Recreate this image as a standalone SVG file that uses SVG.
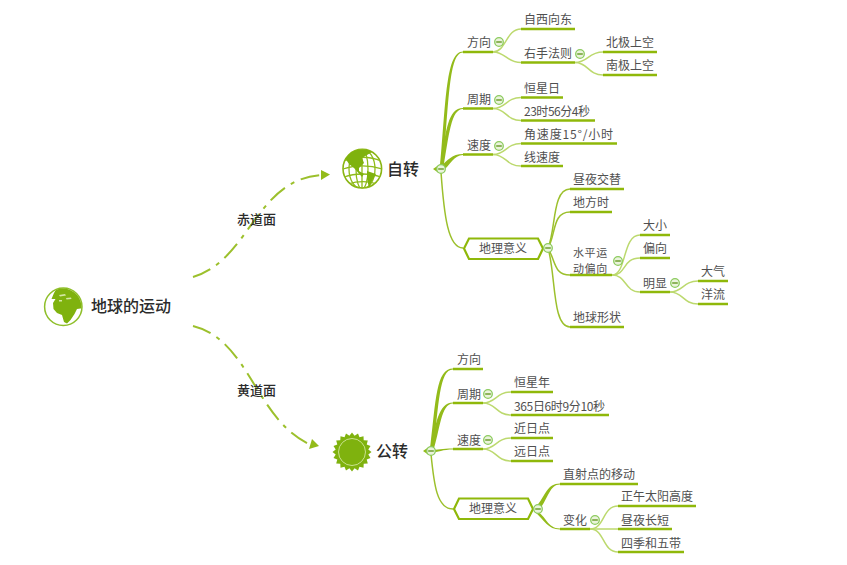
<svg xmlns="http://www.w3.org/2000/svg" width="847" height="565" viewBox="0 0 847 565">
<style>
text{font-family:"Noto Sans CJK SC","Liberation Sans",sans-serif;font-size:12px;fill:#505050}
.big{font-size:16px;font-weight:500;fill:#2b2b2b}
.lab{font-size:13px;font-weight:500;fill:#2b2b2b}
.two{font-size:11px;letter-spacing:.6px}
.u{stroke:#8fb80a;stroke-width:2.500;fill:none}
.a{stroke:#9cc02c;stroke-width:1.500;fill:none}
.b{stroke:#bcd96e;stroke-width:1.500;fill:none}
.t{fill:#93bb1a}
.d{stroke:#9cc02c;stroke-width:2;fill:none;stroke-dasharray:19 7 4 7}
.hex{fill:#fff;stroke:#8fb80a;stroke-width:2.200}
.m{fill:#eaf3dc;stroke:#8ccb5e;stroke-width:1.300}
.n{stroke:#6f9f30;stroke-width:1.500}
</style>
<defs>
<g id="fold"><circle class="m" r="4.300"/><path class="n" d="M-2.800 0H2.800"/></g>
<clipPath id="c1"><circle cx="63" cy="307" r="18.500"/></clipPath>
<clipPath id="c2"><circle cx="362.300" cy="168.700" r="19.500"/></clipPath>
</defs>

<g id="connectors">
<path class="d" d="M193 277C250 260 255 180 321 175"/>
<path class="t" d="M321 170L330 174.500L321 180Z"/>
<path class="d" d="M193 326C250 340 255 420 311 445"/>
<path class="t" d="M312 439L319 446L309 449Z"/>

<path class="t" d="M440 167C446 100 446 51.500 463 51.500V52.500C449 52.500 449 100 443 170Z"/>
<path class="t" d="M440 167C446 130 448 108 463 108V109C451 109 449 135 443 170Z"/>
<path class="t" d="M440 167C448 160 452 154 463 154V155C454 155 450 165 443 171Z"/>
<path class="a" d="M441 172C444 215 448 248 463 248"/>

<path class="b" d="M493 52C506 52 506 29 521 29"/>
<path class="b" d="M493 52C506 52 506 62.500 521 62.500"/>
<path class="b" d="M575 62.500C588 62.500 588 52 603 52"/>
<path class="b" d="M575 62.500C588 62.500 588 75 603 75"/>
<path class="b" d="M493 108.500C506 108.500 506 97.500 521 97.500"/>
<path class="b" d="M493 108.500C506 108.500 506 120.500 521 120.500"/>
<path class="b" d="M493 154.500C506 154.500 506 143.500 521 143.500"/>
<path class="b" d="M493 154.500C506 154.500 506 166 521 166"/>

<path class="a" d="M548 248C556 230 552 189 570 189"/>
<path class="a" d="M548 248C556 235 552 212 570 212"/>
<path class="a" d="M548 248C556 262 554 275 570 275"/>
<path class="a" d="M548 248C556 275 552 327 570 327"/>
<path class="b" d="M612 275C627 275 622 235 640 235"/>
<path class="b" d="M612 275C627 275 622 258 640 258"/>
<path class="b" d="M612 275C627 275 624 292 640 292"/>
<path class="b" d="M670 292C683 292 683 281 698 281"/>
<path class="b" d="M670 292C683 292 683 304 698 304"/>

<path class="t" d="M430 449C436 400 436 368.500 453 368.500V369.500C439 369.500 439 405 433 452Z"/>
<path class="t" d="M430 449C436 425 438 402.500 453 402.500V403.500C441 403.500 440 430 433 452Z"/>
<path class="t" d="M430 450C438 450 442 448.500 453 448.500V449.500C443 449.500 438 452 431 453Z"/>
<path class="a" d="M431 454C434 485 437 509 453 509"/>
<path class="b" d="M483 403C496 403 496 392 511 392"/>
<path class="b" d="M483 403C496 403 496 415 511 415"/>
<path class="b" d="M483 449C496 449 496 438 511 438"/>
<path class="b" d="M483 449C496 449 496 461 511 461"/>
<path class="t" d="M536 507C546 495 547 483.500 560 483.500V484.500C550 484.500 548 498 540 509Z"/>
<path class="t" d="M536 511C546 515 547 528.500 560 528.500V529.500C548 529.500 544 520 535 512Z"/>
<path class="b" d="M590 529C605 529 602 506 618 506"/>
<path class="b" d="M590 529H618"/>
<path class="b" d="M590 529C605 529 602 552 618 552"/>
</g>

<g id="root">
<circle cx="63.300" cy="306.700" r="18.700" fill="#fff" stroke="#8fbf2a" stroke-width="1.500"/>
<g clip-path="url(#c1)"><path fill="#7fb20e" d="M57 288L69 287L76 292L83 300V308L77 309L74.500 314L70.500 320L67 323.500L64 322L62 315L57 313L53.500 309L53 303L55.500 299L51.500 299L54 293Z"/><path fill="#d5e8a5" d="M59 295l6 -1l1 1.500l-6 1zM66 298l5 -0.500l.5 1.500l-5 .5zM59 300l3 0l0 1.500l-3 0z"/></g>
<text class="big" x="91" y="312">地球的运动</text>
</g>
<g id="label-chidao"><text class="lab" x="237" y="224">赤道面</text></g>
<g id="label-huangdao"><text class="lab" x="237" y="395">黄道面</text></g>

<g id="zizhuan">
<circle cx="362.300" cy="168.700" r="19.300" fill="#fff" stroke="#8ab512" stroke-width="1.600"/>
<g clip-path="url(#c2)" fill="none" stroke="#8fbb1a" stroke-width="1.300">
<path d="M344 161C355 156 370 156 381 161M343 169C355 165 370 165 382 169M344 177C355 173 370 173 381 177M348 184C358 181 368 181 377 184"/>
<ellipse cx="362" cy="169" rx="6" ry="20"/><ellipse cx="362" cy="169" rx="13" ry="20"/>
<path d="M362 149V189"/>
</g>
<g clip-path="url(#c2)" fill="#7fb20e">
<path d="M343 150H368L372 152L362 158L364 163L359 168V171L364 174L362 177L354 168L349 164L345 158L342 162Z"/>
<path d="M367 171L376 174L372 181L369 188L367 179Z"/>
<path d="M343 176C345 182 348 186 352 188L346 188L341 180Z"/>
</g>
<text class="big" x="387" y="175">自转</text>
<path class="t" d="M433 169L438 165.500V172.500Z"/><use href="#fold" x="441" y="169"/>
</g>

<g id="gongzhuan">
<polygon fill="#7fb20e" transform="translate(352 452)" points="19.500,0 16.300,2.600 18.500,6 14.700,7.500 15.800,11.500 11.700,11.700 11.500,15.800 7.500,14.700 6,18.500 2.600,16.300 0,19.500 -2.600,16.300 -6,18.500 -7.500,14.700 -11.500,15.800 -11.700,11.700 -15.800,11.500 -14.700,7.500 -18.500,6 -16.300,2.600 -19.500,0 -16.300,-2.600 -18.500,-6 -14.700,-7.500 -15.800,-11.500 -11.700,-11.700 -11.500,-15.800 -7.500,-14.700 -6,-18.500 -2.600,-16.300 0,-19.500 2.600,-16.300 6,-18.500 7.500,-14.700 11.500,-15.800 11.700,-11.700 15.800,-11.500 14.700,-7.500 18.500,-6 16.300,-2.600"/>
<circle cx="352" cy="452" r="13.500" fill="#7fb20e" stroke="#c9e28f" stroke-width="1"/>
<text class="big" x="376" y="457">公转</text>
<path class="t" d="M423 451L428 447.500V454.500Z"/><use href="#fold" x="431" y="451"/>
</g>

<g id="n1"><path class="u" d="M463 52H493"/><text x="467" y="47">方向</text><use href="#fold" x="499" y="42"/></g>
<g id="n2"><path class="u" d="M521 29H575"/><text x="524" y="24">自西向东</text></g>
<g id="n3"><path class="u" d="M521 62.500H575"/><text x="524" y="58">右手法则</text><use href="#fold" x="580" y="54"/></g>
<g id="n4"><path class="u" d="M603 52H657"/><text x="606" y="47">北极上空</text></g>
<g id="n5"><path class="u" d="M603 75H657"/><text x="606" y="70">南极上空</text></g>
<g id="n6"><path class="u" d="M463 108.500H493"/><text x="467" y="104">周期</text><use href="#fold" x="499" y="100"/></g>
<g id="n7"><path class="u" d="M521 97.500H563"/><text x="524" y="93">恒星日</text></g>
<g id="n8"><path class="u" d="M521 120.500H595"/><text x="524" y="116" textLength="66">23时56分4秒</text></g>
<g id="n9"><path class="u" d="M463 154.500H493"/><text x="467" y="150">速度</text><use href="#fold" x="499" y="146"/></g>
<g id="n10"><path class="u" d="M521 143.500H617"/><text x="524" y="139" textLength="89">角速度15°/小时</text></g>
<g id="n11"><path class="u" d="M521 166H563"/><text x="524" y="162">线速度</text></g>
<g id="n12"><path class="hex" d="M469 238.500H538L543 248.500L538 259H469L464 248.500Z"/><text x="479" y="253">地理意义</text><use href="#fold" x="548" y="248"/></g>
<g id="n13"><path class="u" d="M570 189H624"/><text x="573" y="184">昼夜交替</text></g>
<g id="n14"><path class="u" d="M570 212H612"/><text x="573" y="207">地方时</text></g>
<g id="n15"><path class="u" d="M570 275H612"/><text class="two" x="573" y="257"><tspan x="573">水平运</tspan><tspan x="573" dy="15.500">动偏向</tspan></text><use href="#fold" x="618" y="261"/></g>
<g id="n16"><path class="u" d="M640 235H670"/><text x="643" y="230">大小</text></g>
<g id="n17"><path class="u" d="M640 258H670"/><text x="643" y="253">偏向</text></g>
<g id="n18"><path class="u" d="M640 292H670"/><text x="643" y="288">明显</text><use href="#fold" x="675" y="283"/></g>
<g id="n19"><path class="u" d="M698 281H728"/><text x="701" y="276">大气</text></g>
<g id="n20"><path class="u" d="M698 304H728"/><text x="701" y="299">洋流</text></g>
<g id="n21"><path class="u" d="M570 327H624"/><text x="573" y="322">地球形状</text></g>

<g id="n22"><path class="u" d="M453 369H483"/><text x="457" y="364">方向</text></g>
<g id="n23"><path class="u" d="M453 403H483"/><text x="457" y="399">周期</text><use href="#fold" x="488" y="394"/></g>
<g id="n24"><path class="u" d="M511 392H553"/><text x="514" y="387">恒星年</text></g>
<g id="n25"><path class="u" d="M511 415H609"/><text x="514" y="411" textLength="91">365日6时9分10秒</text></g>
<g id="n26"><path class="u" d="M453 449H483"/><text x="457" y="445">速度</text><use href="#fold" x="488" y="440"/></g>
<g id="n27"><path class="u" d="M511 438H553"/><text x="514" y="433">近日点</text></g>
<g id="n28"><path class="u" d="M511 461H553"/><text x="514" y="456">远日点</text></g>
<g id="n29"><path class="hex" d="M459 498.500H528L533 509L528 519H459L454 509Z"/><text x="469" y="513">地理意义</text><use href="#fold" x="538" y="509"/></g>
<g id="n30"><path class="u" d="M560 484H638"/><text x="563" y="479">直射点的移动</text></g>
<g id="n31"><path class="u" d="M560 529H590"/><text x="563" y="525">变化</text><use href="#fold" x="595" y="520"/></g>
<g id="n32"><path class="u" d="M618 506H696"/><text x="621" y="501">正午太阳高度</text></g>
<g id="n33"><path class="u" d="M618 529H672"/><text x="621" y="525">昼夜长短</text></g>
<g id="n34"><path class="u" d="M618 552H684"/><text x="621" y="548">四季和五带</text></g>
</svg>
